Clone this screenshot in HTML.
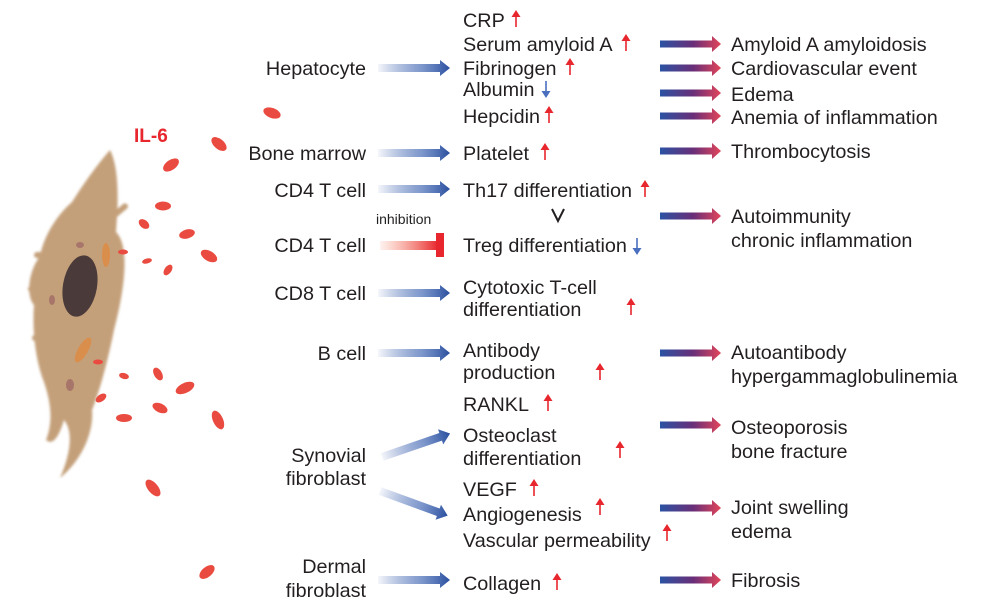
<!DOCTYPE html>
<html><head><meta charset="utf-8"><style>
html,body{margin:0;padding:0;background:#fff;}
svg{display:block;}
text{font-family:"Liberation Sans",sans-serif;font-size:19.8px;fill:#231f20;}
</style></head><body>
<svg width="981" height="613" viewBox="0 0 981 613" xmlns="http://www.w3.org/2000/svg">
<defs>
<linearGradient id="lg" x1="0" x2="1" y1="0" y2="0">
<stop offset="0" stop-color="#2f55a8" stop-opacity="0.05"/>
<stop offset="0.6" stop-color="#5f7fc0" stop-opacity="0.8"/>
<stop offset="1" stop-color="#2a4f9f"/>
</linearGradient>
<linearGradient id="rg" x1="0" x2="1" y1="0" y2="0">
<stop offset="0" stop-color="#2b52a3"/>
<stop offset="0.55" stop-color="#6a2f78"/>
<stop offset="1" stop-color="#e3455a"/>
</linearGradient>
<linearGradient id="ig" x1="0" x2="1" y1="0" y2="0">
<stop offset="0" stop-color="#f47c5c" stop-opacity="0.1"/>
<stop offset="1" stop-color="#e8262d"/>
</linearGradient>
<filter id="bl"><feGaussianBlur stdDeviation="1.2"/></filter>
<g id="la"><polygon points="0,-4 62,-4 62,-8 72,0 62,8 62,4 0,4"/></g>
<g id="ra"><polygon points="0,-3.5 52,-3.5 52,-8 61,0 52,8 52,3.5 0,3.5"/></g>
<g id="up"><line x1="0" y1="8" x2="0" y2="-4" stroke="#e8262d" stroke-width="1.6"/><polygon points="-4.5,-2 0,-9 4.5,-2" fill="#e8262d"/></g>
<g id="dn"><line x1="0" y1="-8" x2="0" y2="4" stroke="#4a6fbf" stroke-width="1.6"/><polygon points="-4.5,2 0,9 4.5,2" fill="#4a6fbf"/></g>
</defs>

<!-- cell -->
<g filter="url(#bl)" fill="#c4a07a">
<path d="M110,150 C120,170 118,205 116,232 C132,248 122,300 114,330 C108,360 100,390 92,410 C94,432 82,460 60,478 C70,455 74,432 64,420 C58,440 52,445 46,440 C54,420 50,400 44,382 C36,362 32,332 34,305 C26,296 28,272 40,256 C44,236 56,216 72,202 C82,186 96,166 110,150 Z"/>
<rect x="28" y="286" width="20" height="6" rx="3"/>
<rect x="34" y="252" width="18" height="6" rx="3"/>
<rect x="110" y="215" width="20" height="6" rx="3" transform="rotate(-40 110 215)"/>
<rect x="32" y="335" width="18" height="6" rx="3"/>
</g>
<ellipse cx="80" cy="286" rx="17" ry="31" transform="rotate(10 80 286)" fill="#4a3a3a"/>
<ellipse cx="106" cy="255" rx="4" ry="12" fill="#e08a40" opacity="0.8"/>
<ellipse cx="83" cy="350" rx="5" ry="14" transform="rotate(30 83 350)" fill="#e08a40" opacity="0.8"/>
<ellipse cx="70" cy="385" rx="4" ry="6" fill="#8a4a5a" opacity="0.5"/>
<ellipse cx="52" cy="300" rx="3" ry="5" fill="#8a4a5a" opacity="0.5"/>
<ellipse cx="80" cy="245" rx="4" ry="3" fill="#8a4a5a" opacity="0.5"/>

<!-- IL-6 dots -->
<g fill="#ea4b40">
<ellipse cx="272" cy="113" rx="9" ry="5" transform="rotate(20 272 113)"/>
<ellipse cx="219" cy="144" rx="9" ry="5" transform="rotate(40 219 144)"/>
<ellipse cx="171" cy="165" rx="9" ry="5" transform="rotate(-35 171 165)"/>
<ellipse cx="163" cy="206" rx="8" ry="4.5"/>
<ellipse cx="144" cy="224" rx="6" ry="4" transform="rotate(40 144 224)"/>
<ellipse cx="187" cy="234" rx="8" ry="4.5" transform="rotate(-15 187 234)"/>
<ellipse cx="209" cy="256" rx="9" ry="5" transform="rotate(30 209 256)"/>
<ellipse cx="123" cy="252" rx="5" ry="2.5"/>
<ellipse cx="147" cy="261" rx="5" ry="2.5" transform="rotate(-15 147 261)"/>
<ellipse cx="168" cy="270" rx="6" ry="3.5" transform="rotate(-55 168 270)"/>
<ellipse cx="98" cy="362" rx="5" ry="2.5"/>
<ellipse cx="124" cy="376" rx="5" ry="3" transform="rotate(15 124 376)"/>
<ellipse cx="158" cy="374" rx="7" ry="4" transform="rotate(60 158 374)"/>
<ellipse cx="185" cy="388" rx="10" ry="5" transform="rotate(-25 185 388)"/>
<ellipse cx="101" cy="398" rx="6" ry="3.5" transform="rotate(-35 101 398)"/>
<ellipse cx="124" cy="418" rx="8" ry="4"/>
<ellipse cx="160" cy="408" rx="8" ry="4.5" transform="rotate(25 160 408)"/>
<ellipse cx="218" cy="420" rx="10" ry="5" transform="rotate(65 218 420)"/>
<ellipse cx="153" cy="488" rx="10" ry="5" transform="rotate(50 153 488)"/>
<ellipse cx="207" cy="572" rx="9" ry="5" transform="rotate(-40 207 572)"/>
</g>
<text x="134" y="142" style="font-weight:bold;fill:#e8262d;font-size:19px">IL-6</text>

<!-- left labels -->
<g text-anchor="end">
<text x="366" y="75">Hepatocyte</text>
<text x="366" y="160">Bone marrow</text>
<text x="366" y="197">CD4 T cell</text>
<text x="366" y="252">CD4 T cell</text>
<text x="366" y="300">CD8 T cell</text>
<text x="366" y="360">B cell</text>
<text x="366" y="462">Synovial</text>
<text x="366" y="485">fibroblast</text>
<text x="366" y="573">Dermal</text>
<text x="366" y="597">fibroblast</text>
</g>

<!-- left arrows -->
<g fill="url(#lg)">
<use href="#la" transform="translate(378,68)"/>
<use href="#la" transform="translate(378,153)"/>
<use href="#la" transform="translate(378,189)"/>
<use href="#la" transform="translate(378,293)"/>
<use href="#la" transform="translate(378,353)"/>
<use href="#la" transform="translate(382,457) rotate(-19)"/>
<use href="#la" transform="translate(380,491) rotate(20)"/>
<use href="#la" transform="translate(378,580)"/>
</g>
<rect x="380" y="241" width="58" height="9" fill="url(#ig)"/>
<rect x="436" y="233" width="8" height="24" fill="#e8262d"/>
<text x="376" y="224" style="font-size:14px">inhibition</text>

<!-- middle texts -->
<g>
<text x="463" y="27">CRP</text>
<text x="463" y="51">Serum amyloid A</text>
<text x="463" y="75">Fibrinogen</text>
<text x="463" y="96">Albumin</text>
<text x="463" y="123">Hepcidin</text>
<text x="463" y="160">Platelet</text>
<text x="463" y="197">Th17 differentiation</text>
<text x="463" y="252">Treg differentiation</text>
<text x="463" y="294">Cytotoxic T-cell</text>
<text x="463" y="316">differentiation</text>
<text x="463" y="357">Antibody</text>
<text x="463" y="379">production</text>
<text x="463" y="411">RANKL</text>
<text x="463" y="442">Osteoclast</text>
<text x="463" y="465">differentiation</text>
<text x="463" y="496">VEGF</text>
<text x="463" y="521">Angiogenesis</text>
<text x="463" y="547">Vascular permeability</text>
<text x="463" y="590">Collagen</text>
</g>
<polyline points="552,209 558,221 564,209" fill="none" stroke="#231f20" stroke-width="2"/>

<use href="#up" x="516" y="19"/>
<use href="#up" x="626" y="43"/>
<use href="#up" x="570" y="67"/>
<use href="#dn" x="546" y="89"/>
<use href="#up" x="549" y="115"/>
<use href="#up" x="545" y="152"/>
<use href="#up" x="645" y="189"/>
<use href="#dn" x="637" y="246"/>
<use href="#up" x="631" y="307"/>
<use href="#up" x="600" y="372"/>
<use href="#up" x="548" y="403"/>
<use href="#up" x="620" y="450"/>
<use href="#up" x="534" y="488"/>
<use href="#up" x="600" y="507"/>
<use href="#up" x="667" y="533"/>
<use href="#up" x="557" y="582"/>

<!-- right arrows -->
<g fill="url(#rg)">
<use href="#ra" transform="translate(660,44)"/>
<use href="#ra" transform="translate(660,68)"/>
<use href="#ra" transform="translate(660,93)"/>
<use href="#ra" transform="translate(660,116)"/>
<use href="#ra" transform="translate(660,151)"/>
<use href="#ra" transform="translate(660,216)"/>
<use href="#ra" transform="translate(660,353)"/>
<use href="#ra" transform="translate(660,425)"/>
<use href="#ra" transform="translate(660,508)"/>
<use href="#ra" transform="translate(660,580)"/>
</g>

<g>
<text x="731" y="51">Amyloid A amyloidosis</text>
<text x="731" y="75">Cardiovascular event</text>
<text x="731" y="101">Edema</text>
<text x="731" y="124">Anemia of inflammation</text>
<text x="731" y="158">Thrombocytosis</text>
<text x="731" y="223">Autoimmunity</text>
<text x="731" y="247">chronic inflammation</text>
<text x="731" y="359">Autoantibody</text>
<text x="731" y="383">hypergammaglobulinemia</text>
<text x="731" y="434">Osteoporosis</text>
<text x="731" y="458">bone fracture</text>
<text x="731" y="514">Joint swelling</text>
<text x="731" y="538">edema</text>
<text x="731" y="587">Fibrosis</text>
</g>
</svg>
</body></html>
